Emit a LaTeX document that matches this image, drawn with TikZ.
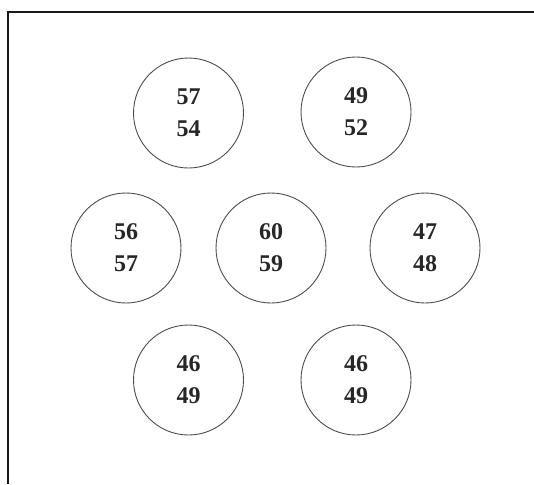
\documentclass[tikz,border=0pt]{standalone}
\usepackage{fontspec}
\setmainfont{Liberation Serif}
\usepackage{xcolor}
\usepackage{tikz}
\usetikzlibrary{positioning}

\begin{document}
\begin{tikzpicture}[
    x=1pt, y=-1pt,
    ring/.style={draw=black!70, line width=0.9pt, circle, minimum size=110pt, inner sep=0pt, align=center, font=\fontsize{24}{32}\selectfont\bfseries, text=black!85},
    frame/.style={line width=1.6pt, draw=black!90}
]
    \useasboundingbox (0,0) rectangle (534,484);

    % Frame (top and left edges)
    \draw[frame] (8,484) -- (8,12) -- (534,12);

    % Top row
    \node[ring] (tl) at (188.5,113) {57\\54};
    \node[ring] (tr) at (356,112) {49\\52};

    % Middle row
    \node[ring] (ml) at (126,248) {56\\57};
    \node[ring] (mc) at (271,248) {60\\59};
    \node[ring] (mr) at (425,248) {47\\48};

    % Bottom row
    \node[ring] (bl) at (188.5,380) {46\\49};
    \node[ring] (br) at (356,380) {46\\49};

\end{tikzpicture}
\end{document}
